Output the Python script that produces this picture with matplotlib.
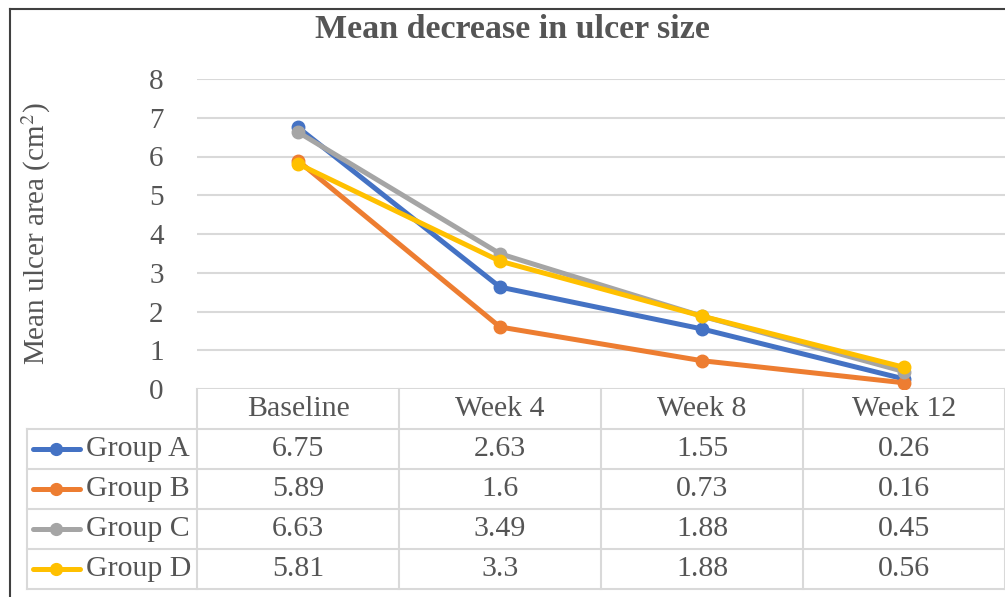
import matplotlib.pyplot as plt
from matplotlib.lines import Line2D
import numpy as np

categories = ['Baseline', 'Week 4', 'Week 8', 'Week 12']
groups = ['Group A', 'Group B', 'Group C', 'Group D']
group_a = [6.75, 2.63, 1.55, 0.26]
group_b = [5.89, 1.6, 0.73, 0.16]
group_c = [6.63, 3.49, 1.88, 0.45]
group_d = [5.81, 3.3, 1.88, 0.56]
table_text = [['6.75', '2.63', '1.55', '0.26'],
              ['5.89', '1.6', '0.73', '0.16'],
              ['6.63', '3.49', '1.88', '0.45'],
              ['5.81', '3.3', '1.88', '0.56']]
colors = ['#4472C4', '#ED7D31', '#A5A5A5', '#FFC000']

plt.rcParams['font.family'] = ['Liberation Serif', 'DejaVu Serif']
plt.rcParams['mathtext.fontset'] = 'stix'
txt = '#555555'
grid = '#D9D9D9'

W, H = 1005, 597
fig = plt.figure(figsize=(W / 100, H / 100), dpi=100)


def px(x0, y0, x1, y1):
    # pixel box (top-left origin) -> figure fraction rect
    return [x0 / W, 1 - y1 / H, (x1 - x0) / W, (y1 - y0) / H]


# outer frame (top and left edges visible)
fig.add_artist(Line2D([10 / W, 1], [1 - 9 / H, 1 - 9 / H], color='#404040', lw=1.5))
fig.add_artist(Line2D([10 / W, 10 / W], [1 - 9 / H, 0], color='#404040', lw=1.5))

# chart area
ax = fig.add_axes(px(197, 79, 1005, 389))
x = np.arange(len(categories))
for vals, c in zip([group_a, group_b, group_c, group_d], colors):
    ax.plot(x, vals, color=c, lw=3.6, marker='o', ms=9, solid_capstyle='round', zorder=3)
ax.set_xlim(-0.5, len(categories) - 0.5)
ax.set_ylim(0, 8)
ax.set_yticks(range(0, 9))
ax.yaxis.grid(True, color=grid, lw=1.5)
ax.set_axisbelow(True)
ax.set_xticks([])
for s in ax.spines.values():
    s.set_visible(False)
ax.tick_params(axis='y', length=0, labelsize=21, labelcolor=txt, pad=24)
ax.set_ylabel('Mean ulcer area (cm$^2$)', fontsize=21, color=txt)
ax.yaxis.set_label_coords(-0.178, 0.5)

fig.text(512 / W, 1 - 30 / H, 'Mean decrease in ulcer size', ha='center', va='center',
         fontsize=24.5, fontweight='bold', color=txt)

# data table under the chart
col_w = 202
left_w = 170
tab = fig.add_axes(px(27, 389, 1005, 589))
tab.set_xlim(-0.5 - left_w / col_w, len(categories) - 0.5)
tab.set_ylim(5, 0)
tab.axis('off')
lx = -0.5 - left_w / col_w
# header row
for i, cat in enumerate(categories):
    tab.text(i, 0.5, cat, ha='center', va='center', fontsize=21.5, color=txt)
for i in range(len(categories) + 1):
    tab.plot([i - 0.5, i - 0.5], [0, 5], color=grid, lw=1.5, clip_on=False)
tab.plot([lx, lx], [1, 5], color=grid, lw=1.5, clip_on=False)
for r in range(1, 6):
    tab.plot([lx, len(categories) - 0.5], [r, r], color=grid, lw=1.5, clip_on=False)
# body rows
for r, (g, c, row) in enumerate(zip(groups, colors, table_text)):
    yy = r + 1.5
    tab.plot([lx + 0.03, lx + 0.26], [yy, yy], color=c, lw=3.6, solid_capstyle='round')
    tab.plot([lx + 0.145], [yy], marker='o', color=c, ms=8.5)
    tab.text(lx + 0.29, yy, g, ha='left', va='center', fontsize=21.5, color=txt)
    for i, v in enumerate(row):
        tab.text(i, yy, v, ha='center', va='center', fontsize=21.5, color=txt)

fig.savefig('out.png', dpi=100)
